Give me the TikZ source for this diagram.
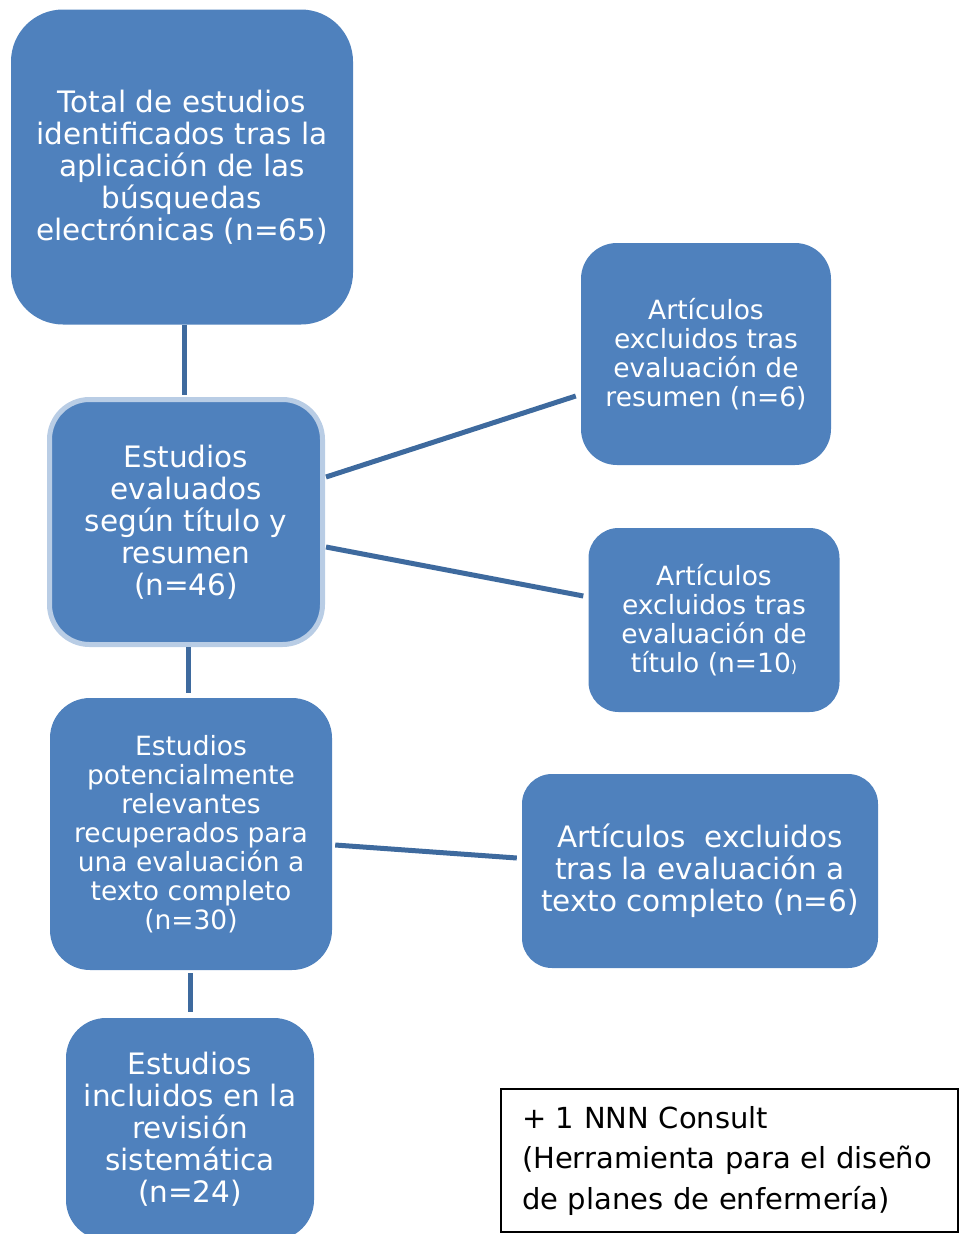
\documentclass[tikz,border=0pt]{standalone}
\usepackage{fontspec}
\setmainfont{DejaVu Sans}
\usepackage{xcolor}
\usepackage{tikz}
\usetikzlibrary{positioning}
\definecolor{boxblue}{HTML}{4F81BD}
\definecolor{lineblue}{HTML}{3E6A9E}
\definecolor{rimblue}{HTML}{B9CDE5}
\newcommand{\bigtxt}{\fontsize{29.5}{32}\selectfont}
\newcommand{\smalltxt}{\fontsize{26.5}{29}\selectfont}
\tikzset{
    flownode/.style = {align=center, inner sep=0pt, text centered},
    bluebox/.style = {flownode, rectangle, rounded corners=40pt, fill=boxblue, text=white, font=\bigtxt},
    smallbox/.style = {bluebox, font=\smalltxt},
    rimbox/.style = {bluebox, draw=rimblue, line width=5pt},
    notebox/.style = {flownode, rectangle, draw=black, line width=2pt, align=left, text=black, font=\fontsize{29}{40.5}\selectfont},
    link/.style = {draw=lineblue, line width=5pt}
}
\begin{document}
\begin{tikzpicture}[x=1pt, y=-1pt]
    \useasboundingbox (0,0) rectangle (959,1234);
    \clip (0,0) rectangle (959,1234);

    \node (total) [bluebox, rounded corners=52pt, minimum width=342pt, minimum height=315pt] at (182,167)
        {Total de estudios\\ identificados tras la\\ aplicación de las\\ búsquedas\\ electrónicas (n=65)};
    \node (evaluados) [rimbox, minimum width=273pt, minimum height=245pt] at (186,522)
        {Estudios\\ evaluados\\ según título y\\ resumen\\ (n=46)};
    \node (resumen) [smallbox, rounded corners=36pt, minimum width=250pt, minimum height=222pt] at (706,354)
        {Artículos\\ excluidos tras\\ evaluación de\\ resumen (n=6)};
    \node (titulo) [smallbox, rounded corners=30pt, minimum width=251pt, minimum height=184pt] at (714,620)
        {Artículos\\ excluidos tras\\ evaluación de\\ título (n=10{\fontsize{16}{29}\selectfont)}};
    \node (relevantes) [smallbox, rounded corners=40pt, minimum width=282pt, minimum height=272pt] at (191,834)
        {Estudios\\ potencialmente\\ relevantes\\ recuperados para\\ una evaluación a\\ texto completo\\ (n=30)};
    \node (completo) [bluebox, rounded corners=30pt, minimum width=356pt, minimum height=194pt] at (700,871)
        {Artículos~ excluidos\\ tras la evaluación a\\ texto completo (n=6)};
    \node (incluidos) [bluebox, rounded corners=40pt, minimum width=248pt, minimum height=222pt] at (190,1129)
        {Estudios\\ incluidos en la\\ revisión\\ sistemática\\ (n=24)};
    \node (nnn) [notebox, minimum width=457pt, minimum height=143pt, text width=415pt] at (729.5,1160.5)
        {+ 1 NNN Consult\\ (Herramienta para el diseño\\ de planes de enfermería)};

    % connectors
    \path[link] ([xshift=2pt]total.south) -- ([xshift=-2pt, yshift=2pt]evaluados.north);
    \path[link] ([xshift=1pt, yshift=45pt]evaluados.east) -- ([xshift=-5pt, yshift=-42pt]resumen.west);
    \path[link] ([xshift=1pt, yshift=-25pt]evaluados.east) -- ([xshift=-5pt, yshift=24pt]titulo.west);
    \path[link] ([xshift=2pt]evaluados.south) -- ([xshift=-3pt, yshift=5pt]relevantes.north);
    \path[link] ([xshift=3pt, yshift=-11pt]relevantes.east) -- ([xshift=-5pt, yshift=13pt]completo.west);
    \path[link] ([xshift=-1pt, yshift=-3pt]relevantes.south) -- ([yshift=6pt]incluidos.north);
\end{tikzpicture}
\end{document}
